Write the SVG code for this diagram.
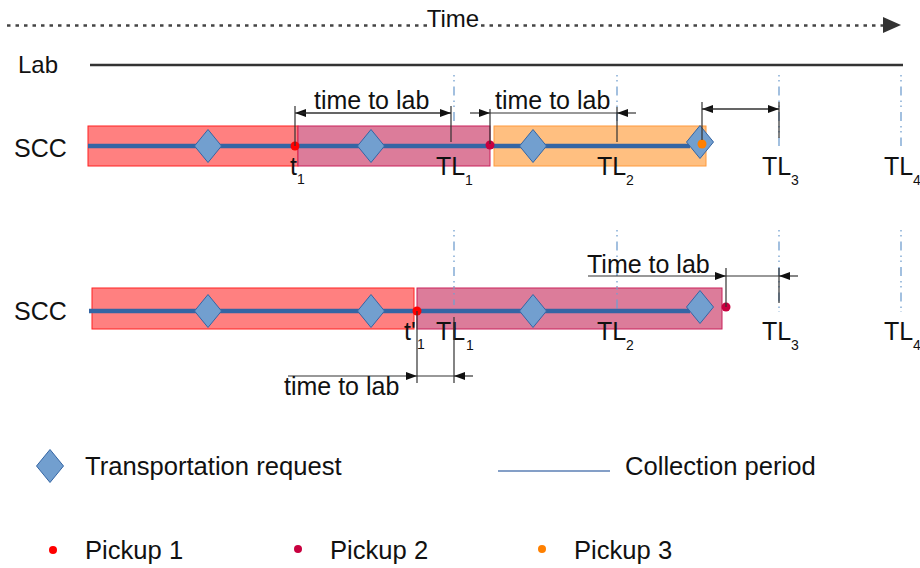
<svg xmlns="http://www.w3.org/2000/svg" width="920" height="568" viewBox="0 0 920 568">
<style>
text{font-family:"Liberation Sans",Arial,sans-serif;font-size:25px;fill:#111}
.sub{font-size:14px}
.lg{font-size:25.6px}
.dim{stroke:#333;stroke-width:1.2;fill:none}
.tl{stroke:#729fcf;stroke-width:1.3;stroke-dasharray:1.5 3.5 1.5 5 9 5;fill:none}
.bl{stroke:#3465a4;stroke-width:4.5;fill:none}
.dia{fill:#729fcf;stroke:#3465a4;stroke-width:1}
.red{fill:#ff8080;stroke:#ff2020;stroke-width:1}
.pink{fill:#dc7c9a;stroke:#c9215a;stroke-width:1}
.orng{fill:#ffbf80;stroke:#ff9a3c;stroke-width:1}
</style>
<defs>
<marker id="ah" viewBox="0 0 11 8" refX="11" refY="4" markerWidth="11" markerHeight="8" markerUnits="userSpaceOnUse" orient="auto-start-reverse"><path d="M0,0 L11,4 L0,8 Z" fill="#111"/></marker>
<path id="dm" d="M0,-16.5 L13.5,0 L0,16.5 L-13.5,0 Z"/>
</defs>

<g id="time-axis">
<path d="M7,25.5 H427 M481,25.5 H886" stroke="#444" stroke-width="2.5" stroke-dasharray="3.5 5" fill="none"/>
<path d="M883,17 L901,25 L883,33 Z" fill="#333"/>
<text x="453" y="27" text-anchor="middle" style="font-size:24px">Time</text>
</g>

<g id="lab">
<text x="18" y="73" style="font-size:24px">Lab</text>
<line x1="90" y1="65" x2="903" y2="65" stroke="#333" stroke-width="2.5"/>
</g>

<g id="tl-guides-row1">
<path class="tl" d="M454,75 V146 M617,75 V146 M779,75 V146 M901,75 V146"/>
</g>

<g id="row1">
<text x="14" y="157">SCC</text>
<rect class="red" x="88" y="126" width="210" height="40"/>
<rect class="pink" x="298" y="126" width="192" height="40"/>
<rect class="orng" x="494" y="126" width="212" height="40"/>
<line class="bl" x1="88" y1="146" x2="690" y2="146"/>
<use href="#dm" class="dia" x="208" y="146"/>
<use href="#dm" class="dia" x="371" y="146"/>
<use href="#dm" class="dia" x="533" y="146"/>
<use href="#dm" class="dia" x="700" y="142"/>
<circle cx="295" cy="146" r="4.5" fill="#ff0000"/>
<circle cx="490" cy="145" r="4.5" fill="#c8003f"/>
<circle cx="702" cy="144" r="4.5" fill="#ff8000"/>
<text x="290" y="175">t</text><text class="sub" x="297" y="184">1</text>
<text x="436" y="175">TL</text><text class="sub" x="465" y="185">1</text>
<text x="597" y="175">TL</text><text class="sub" x="626" y="185">2</text>
<text x="762" y="175">TL</text><text class="sub" x="791" y="185">3</text>
<text x="884" y="175">TL</text><text class="sub" x="913" y="185">4</text>
</g>

<g id="tl-guides-row2">
<path class="tl" d="M454,230 V312 M617,230 V312 M779,230 V312 M901,230 V312"/>
</g>

<g id="row2">
<text x="14" y="320">SCC</text>
<rect class="red" x="92" y="288" width="322" height="41"/>
<rect class="pink" x="417" y="288" width="305" height="41"/>
<path class="tl" d="M454,288 V305 M617,288 V312"/>
<line class="bl" x1="89" y1="311" x2="690" y2="311"/>
<use href="#dm" class="dia" x="208" y="311"/>
<use href="#dm" class="dia" x="371" y="311"/>
<use href="#dm" class="dia" x="533" y="311"/>
<use href="#dm" class="dia" x="700" y="307"/>
<circle cx="417" cy="311" r="4.5" fill="#ff0000"/>
<circle cx="726" cy="307" r="4.5" fill="#c8003f"/>
<text x="404" y="340">t'</text><text class="sub" x="417" y="349">1</text>
<text x="436" y="340">TL</text><text class="sub" x="466" y="350">1</text>
<text x="597" y="340">TL</text><text class="sub" x="626" y="350">2</text>
<text x="762" y="340">TL</text><text class="sub" x="791" y="350">3</text>
<text x="884" y="340">TL</text><text class="sub" x="913" y="350">4</text>
</g>

<g id="connectors">
<!-- row 1, dimension A -->
<path class="dim" d="M295,106 V146 M451,106 V142"/>
<line class="dim" x1="451" y1="113" x2="295" y2="113" marker-end="url(#ah)"/>
<line class="dim" x1="300" y1="113" x2="451" y2="113" marker-end="url(#ah)"/>
<!-- row 1, dimension B -->
<path class="dim" d="M490,109 V144 M617,107 V142"/>
<line class="dim" x1="470" y1="113" x2="490" y2="113" marker-end="url(#ah)"/>
<line class="dim" x1="490" y1="113" x2="617" y2="113"/>
<line class="dim" x1="636" y1="113" x2="617" y2="113" marker-end="url(#ah)"/>
<!-- row 1, dimension C -->
<path class="dim" d="M702,102 V140 M779,102 V138"/>
<line class="dim" x1="779" y1="109" x2="702" y2="109" marker-end="url(#ah)"/>
<line class="dim" x1="702" y1="109" x2="779" y2="109" marker-end="url(#ah)"/>
<!-- row 2, dimension D -->
<path class="dim" d="M726,268 V307 M779,268 V303"/>
<line class="dim" x1="588" y1="276" x2="726" y2="276" marker-end="url(#ah)"/>
<line class="dim" x1="726" y1="276" x2="779" y2="276"/>
<line class="dim" x1="798" y1="276" x2="779" y2="276" marker-end="url(#ah)"/>
<!-- row 2, dimension E -->
<path class="dim" d="M417,311 V383 M454,317 V383"/>
<line class="dim" x1="288" y1="376" x2="417" y2="376" marker-end="url(#ah)"/>
<line class="dim" x1="417" y1="376" x2="454" y2="376"/>
<line class="dim" x1="473" y1="376" x2="454" y2="376" marker-end="url(#ah)"/>
</g>

<g id="dim-labels">
<text x="314" y="109">time to lab</text>
<text x="495" y="109">time to lab</text>
<text x="587" y="273">Time to lab</text>
<text x="284" y="395">time to lab</text>
</g>

<g id="legend">
<use href="#dm" class="dia" x="50" y="466"/>
<text class="lg" x="85" y="475">Transportation request</text>
<line x1="498" y1="471" x2="610" y2="471" stroke="#5b7fb5" stroke-width="1.5"/>
<text class="lg" x="625" y="475">Collection period</text>
<circle cx="53" cy="550" r="4" fill="#ff0000"/>
<text class="lg" x="85" y="559">Pickup 1</text>
<circle cx="298" cy="549" r="4" fill="#c8003f"/>
<text class="lg" x="330" y="559">Pickup 2</text>
<circle cx="542" cy="549" r="4" fill="#ff8000"/>
<text class="lg" x="574" y="559">Pickup 3</text>
</g>
</svg>
